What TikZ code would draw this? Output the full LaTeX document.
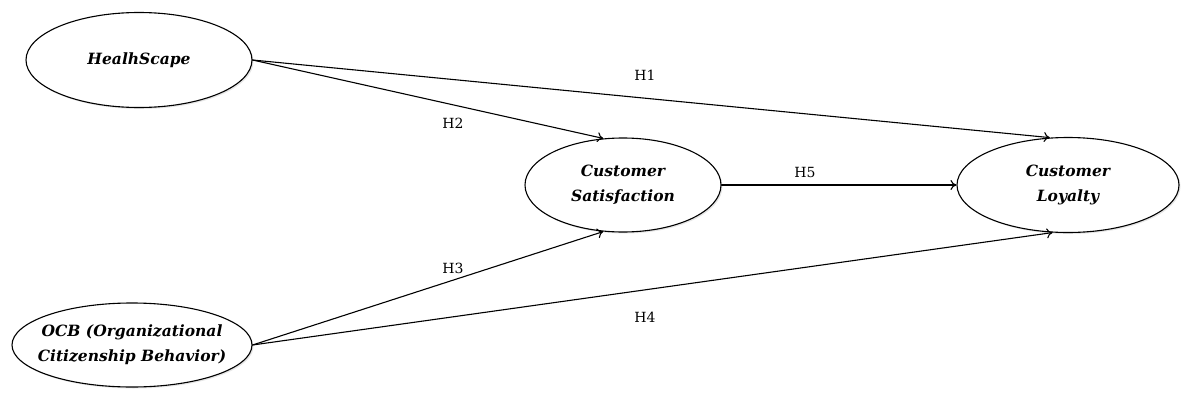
\documentclass[tikz,border=0pt]{standalone}
\usepackage{fontspec}
\setmainfont{DejaVu Serif}
\usetikzlibrary{arrows.meta,shadows,shapes.geometric}
\begin{document}
\begin{tikzpicture}[x=1pt, y=-1pt, line cap=round, line join=round, >={To[length=6pt,width=10pt]}]
			\tikzset{construct/.style={ellipse, draw, line width=1.1pt, fill=white, inner sep=-10pt, align=center,
					font=\fontsize{15.5}{25}\selectfont\bfseries\itshape,
					drop shadow={opacity=0.2, shadow xshift=1.5pt, shadow yshift=-1.5pt}},
				hyp/.style={font=\fontsize{14}{16}\selectfont},
				link/.style={->, line width=1.1pt}}
			\useasboundingbox (0,0) rectangle (1182,396);
			\node[construct, minimum width=226pt, minimum height=95pt] (hs) at (139,60) {HealhScape};
			\node[construct, minimum width=240pt, minimum height=84pt] (ocb) at (132,345) {OCB (Organizational\\Citizenship Behavior)};
			\node[construct, minimum width=196pt, minimum height=94pt] (cs) at (623,185) {Customer\\Satisfaction};
			\node[construct, minimum width=222pt, minimum height=95pt] (cl) at (1068,185) {Customer\\Loyalty};
			\draw[link] (hs.east) -- (cl.111);
			\draw[link] (hs.east) -- (cs.113);
			\draw[link] (ocb.east) -- (cs.247);
			\draw[link] (ocb.east) -- (cl.252);
			\draw[link] (cs.east) -- (cl.west);
			\node[hyp] (h1) at (645,75) {H1};
			\node[hyp] (h2) at (453,123) {H2};
			\node[hyp] (h3) at (453,268) {H3};
			\node[hyp] (h4) at (645,317) {H4};
			\node[hyp] (h5) at (805,172) {H5};
		\end{tikzpicture}
\end{document}
